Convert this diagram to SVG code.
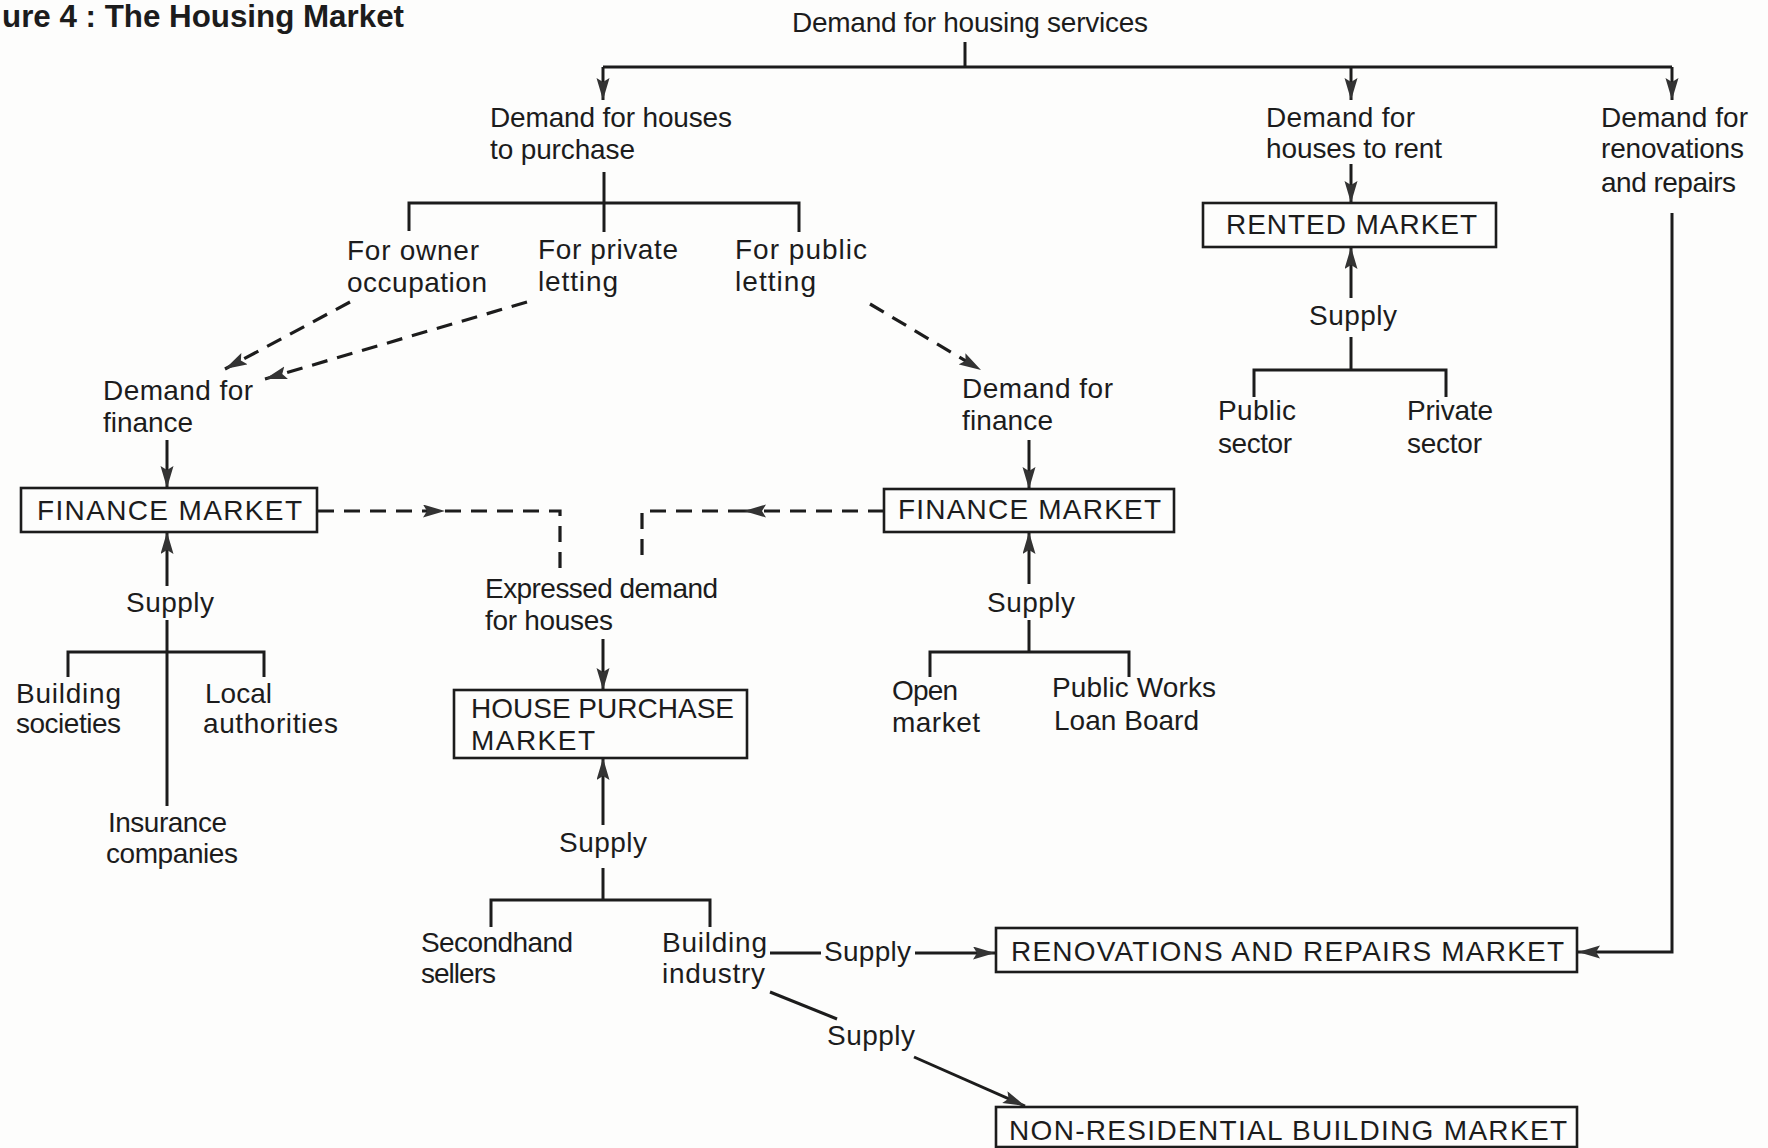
<svg xmlns="http://www.w3.org/2000/svg" width="1768" height="1148" viewBox="0 0 1768 1148">
<style>
.bg{fill:#fdfdfc}
.t{font-family:"Liberation Sans",Arial,sans-serif;font-size:28px;fill:#1c1c1c}
.title{font-family:"Liberation Sans Narrow","Liberation Sans",Arial,sans-serif;font-size:31px;font-weight:bold;fill:#1c1c1c}
.box{fill:none;stroke:#1c1c1c;stroke-width:2.6}
.ln{fill:none;stroke:#1c1c1c;stroke-width:3}
.ds{fill:none;stroke:#1c1c1c;stroke-width:3.2;stroke-dasharray:16 10}
</style>
<defs>
<marker id="ah" markerUnits="userSpaceOnUse" markerWidth="24" markerHeight="14" refX="22" refY="6.5" orient="auto">
<path d="M0,0 L22,6.5 L0,13 L4,6.5 z" fill="#333"/>
</marker>
</defs>
<rect class="bg" x="0" y="0" width="1768" height="1148"/>
<text class="title" x="2" y="27" textLength="402" lengthAdjust="spacingAndGlyphs">ure 4 : The Housing Market</text>

<g id="connectors">
<path class="ln" d="M965,42 V67"/>
<path class="ln" d="M603,67 H1672"/>
<path class="ln" d="M603,67 V100" marker-end="url(#ah)"/>
<path class="ln" d="M1351,67 V100" marker-end="url(#ah)"/>
<path class="ln" d="M1672,67 V100" marker-end="url(#ah)"/>
<path class="ln" d="M604,172 V232"/>
<path class="ln" d="M409,231 V203 H799 V232"/>
<path class="ds" d="M350,302 L225,369" marker-end="url(#ah)"/>
<path class="ds" d="M527,302 L265,379" marker-end="url(#ah)"/>
<path class="ds" d="M870,304 L981,370" marker-end="url(#ah)"/>
<path class="ln" d="M167,440 V488" marker-end="url(#ah)"/>
<path class="ds" d="M318,511 H445" marker-end="url(#ah)"/>
<path class="ds" d="M445,511 H560 V569"/>
<path class="ds" d="M884,511 H744" marker-end="url(#ah)"/>
<path class="ds" d="M744,511 H642 V565"/>
<path class="ln" d="M1029,440 V489" marker-end="url(#ah)"/>
<path class="ln" d="M1029,584 V532" marker-end="url(#ah)"/>
<path class="ln" d="M1029,620 V652"/>
<path class="ln" d="M930,677 V652 H1129 V677"/>
<path class="ln" d="M167,586 V532" marker-end="url(#ah)"/>
<path class="ln" d="M167,620 V806"/>
<path class="ln" d="M68,677 V652 H264 V677"/>
<path class="ln" d="M603,639 V690" marker-end="url(#ah)"/>
<path class="ln" d="M603,825 V758" marker-end="url(#ah)"/>
<path class="ln" d="M603,868 V900"/>
<path class="ln" d="M491,927 V900 H710 V927"/>
<path class="ln" d="M770,953 H821"/>
<path class="ln" d="M915,953 H995" marker-end="url(#ah)"/>
<path class="ln" d="M770,992 L837,1019"/>
<path class="ln" d="M914,1057 L1025,1106" marker-end="url(#ah)"/>
<path class="ln" d="M1672,213 V952 H1578" marker-end="url(#ah)"/>
<path class="ln" d="M1351,164 V203" marker-end="url(#ah)"/>
<path class="ln" d="M1351,298 V247" marker-end="url(#ah)"/>
<path class="ln" d="M1351,337 V370"/>
<path class="ln" d="M1254,397 V370 H1446 V397"/>
</g>

<g id="demand-housing-services"><text class="t" x="792" y="32" textLength="356">Demand for housing services</text></g>
<g id="demand-purchase"><text class="t" x="490" y="127" textLength="242">Demand for houses</text><text class="t" x="490" y="159" textLength="145">to purchase</text></g>
<g id="owner-occupation"><text class="t" x="347" y="260" textLength="132">For owner</text><text class="t" x="347" y="292" textLength="140">occupation</text></g>
<g id="private-letting"><text class="t" x="538" y="259" textLength="140">For private</text><text class="t" x="538" y="291" textLength="80">letting</text></g>
<g id="public-letting"><text class="t" x="735" y="259" textLength="132">For public</text><text class="t" x="735" y="291" textLength="81">letting</text></g>
<g id="demand-finance-left"><text class="t" x="103" y="400" textLength="150">Demand for</text><text class="t" x="103" y="432" textLength="90">finance</text></g>
<g id="finance-market-left"><rect class="box" x="21" y="488" width="296" height="44"/><text class="t" x="37" y="520" textLength="265">FINANCE MARKET</text></g>
<g id="supply-left"><text class="t" x="126" y="612" textLength="88">Supply</text></g>
<g id="building-societies"><text class="t" x="16" y="703" textLength="105">Building</text><text class="t" x="16" y="733" textLength="105">societies</text></g>
<g id="local-authorities"><text class="t" x="205" y="703" textLength="67">Local</text><text class="t" x="203" y="733" textLength="135">authorities</text></g>
<g id="insurance-companies"><text class="t" x="108" y="832" textLength="119">Insurance</text><text class="t" x="106" y="863" textLength="132">companies</text></g>
<g id="demand-finance-right"><text class="t" x="962" y="398" textLength="151">Demand for</text><text class="t" x="962" y="430" textLength="91">finance</text></g>
<g id="finance-market-right"><rect class="box" x="884" y="489" width="290" height="43"/><text class="t" x="898" y="519" textLength="263">FINANCE MARKET</text></g>
<g id="supply-right"><text class="t" x="987" y="612" textLength="88">Supply</text></g>
<g id="open-market"><text class="t" x="892" y="700" textLength="66">Open</text><text class="t" x="892" y="732" textLength="88">market</text></g>
<g id="pwlb"><text class="t" x="1052" y="697" textLength="164">Public Works</text><text class="t" x="1054" y="730" textLength="145">Loan Board</text></g>
<g id="expressed-demand"><text class="t" x="485" y="598" textLength="233">Expressed demand</text><text class="t" x="485" y="630" textLength="128">for houses</text></g>
<g id="house-purchase-market"><rect class="box" x="454" y="690" width="293" height="68"/><text class="t" x="471" y="718" textLength="263">HOUSE PURCHASE</text><text class="t" x="471" y="750" textLength="124">MARKET</text></g>
<g id="supply-house"><text class="t" x="559" y="852" textLength="88">Supply</text></g>
<g id="secondhand-sellers"><text class="t" x="421" y="952" textLength="152">Secondhand</text><text class="t" x="421" y="983" textLength="75">sellers</text></g>
<g id="building-industry"><text class="t" x="662" y="952" textLength="105">Building</text><text class="t" x="662" y="983" textLength="103">industry</text></g>
<g id="supply-reno"><text class="t" x="824" y="961" textLength="87">Supply</text></g>
<g id="supply-nonres"><text class="t" x="827" y="1045" textLength="88">Supply</text></g>
<g id="reno-market"><rect class="box" x="996" y="928" width="581" height="44"/><text class="t" x="1011" y="961" textLength="553">RENOVATIONS AND REPAIRS MARKET</text></g>
<g id="nonres-market"><rect class="box" x="996" y="1107" width="581" height="40"/><text class="t" x="1009" y="1140" textLength="558">NON-RESIDENTIAL BUILDING MARKET</text></g>
<g id="demand-rent"><text class="t" x="1266" y="127" textLength="149">Demand for</text><text class="t" x="1266" y="158" textLength="176">houses to rent</text></g>
<g id="rented-market"><rect class="box" x="1203" y="203" width="293" height="44"/><text class="t" x="1226" y="234" textLength="251">RENTED MARKET</text></g>
<g id="supply-rent"><text class="t" x="1309" y="325" textLength="88">Supply</text></g>
<g id="public-sector"><text class="t" x="1218" y="420" textLength="78">Public</text><text class="t" x="1218" y="453" textLength="74">sector</text></g>
<g id="private-sector"><text class="t" x="1407" y="420" textLength="86">Private</text><text class="t" x="1407" y="453" textLength="75">sector</text></g>
<g id="demand-reno"><text class="t" x="1601" y="127" textLength="147">Demand for</text><text class="t" x="1601" y="158" textLength="143">renovations</text><text class="t" x="1601" y="192" textLength="135">and repairs</text></g>
</svg>
